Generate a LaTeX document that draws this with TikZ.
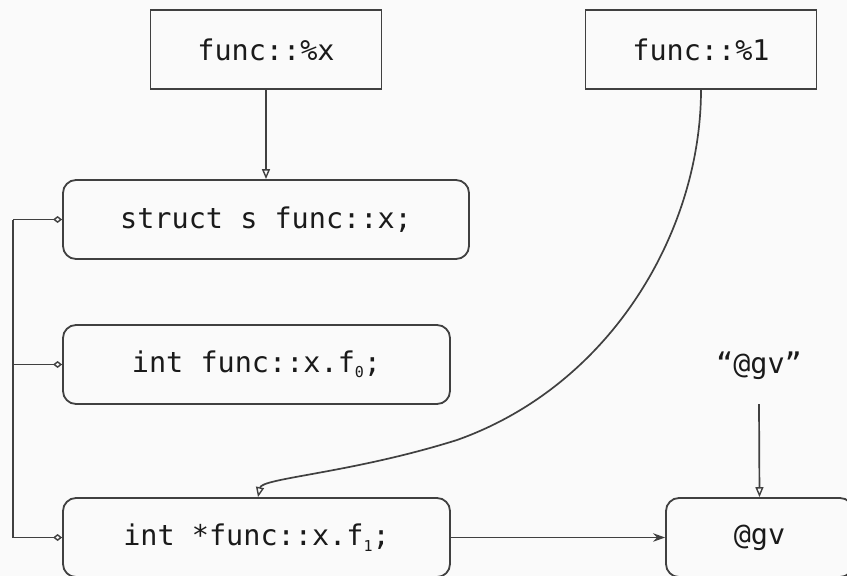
\documentclass[tikz,border=0pt]{standalone}
\usepackage{fontspec}
\setmonofont{DejaVu Sans Mono}
\usetikzlibrary{arrows.meta}
\definecolor{ink}{HTML}{404040}
\definecolor{txt}{HTML}{1A1A1A}
\definecolor{bg}{HTML}{FAFAFA}
\newcommand{\subidx}[1]{\raisebox{-0.35ex}{\fontsize{15}{15}\selectfont #1}}
\tikzset{
  base/.style={draw=ink, line width=1.8pt, text=txt, inner sep=0pt,
    font=\ttfamily\fontsize{28.5}{34}\selectfont, fill=bg},
  varbox/.style={base, minimum height=79pt},
  instbox/.style={base, rounded corners=13pt, minimum height=79pt},
  link/.style={draw=ink, line width=1.7pt},
  opentip/.style={link, -{Triangle[open, length=10pt, width=8pt, line width=1.4pt]}},
  filltip/.style={link, -{Stealth[length=12pt, width=8.5pt]}},
  member/.style={link, -{Diamond[open, length=9pt, width=7pt, line width=1.4pt]}},
}
\begin{document}
\begin{tikzpicture}[x=1pt, y=-1pt]
  \fill[bg] (0,0) rectangle (847,576);
  \useasboundingbox (0,0) rectangle (847,576);

  % variables
  \node[varbox, minimum width=231pt] (px) at (266,49.5) {func::\%x};
  \node[varbox, minimum width=231pt] (p1) at (701,49.5) {func::\%1};

  % instances
  \node[instbox, minimum width=406pt] (sx) at (266,219.5) {struct s func::x;};
  \node[instbox, minimum width=387pt] (f0) at (256.5,364.5) {int func::x.f\subidx{0};};
  \node[instbox, minimum width=387pt] (f1) at (256.5,537.5) {int *func::x.f\subidx{1};};
  \node[instbox, minimum width=187pt] (gv) at (759.5,537.5) {@gv};

  % string literal
  \node[base, draw=none, fill=none] (lit) at (759,366) {“@gv”};

  % bus joining the members of the struct
  \coordinate (bt) at (13,219.5);
  \coordinate (bm) at (13,364.5);
  \coordinate (bb) at (13,537.5);
  \draw[link] (bt) -- (bb);
  \draw[member] (bt) -- (sx.west);
  \draw[member] (bm) -- (f0.west);
  \draw[member] (bb) -- (f1.west);

  % pointers
  \draw[opentip] (px.south) -- (sx.north);
  \coordinate (mid) at (457,440);
  \draw[opentip] (p1.south) .. controls (701,230) and (612,385) .. (mid)
    .. controls (352,473) and (262,478) .. ([xshift=1.5pt]f1.north);
  \draw[filltip] (f1.east) -- (gv.west);
  \draw[opentip] ([yshift=-38pt]lit.center) -- (gv.north);
\end{tikzpicture}
\end{document}
